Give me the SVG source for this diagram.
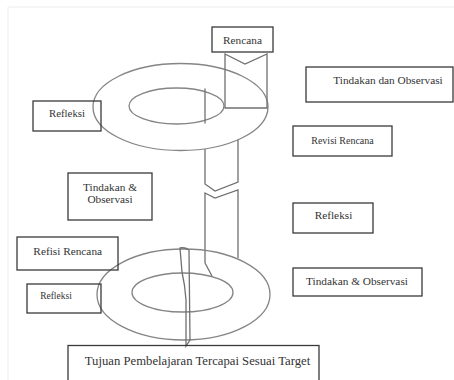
<svg xmlns="http://www.w3.org/2000/svg" width="454" height="380" viewBox="0 0 454 380">
<style>
.box{fill:none;stroke:#3a3a3a;stroke-width:1.3}
.ring{fill:none;stroke:#858585;stroke-width:1.3}
.ln{fill:none;stroke:#707070;stroke-width:1.3;stroke-linejoin:miter}
text{font-family:"Liberation Serif","Times New Roman",serif;fill:#333;text-anchor:middle;font-size:11.3px}
</style>
<rect x="0" y="0" width="454" height="380" fill="#fff"/>
<path d="M8,380 V7 H454" fill="none" stroke="#ececec" stroke-width="1"/>
<g id="connectors">
<ellipse class="ring" cx="180.5" cy="107" rx="87.5" ry="43.5"/>
<ellipse class="ring" cx="176.5" cy="106" rx="47.5" ry="18"/>
<line class="ln" x1="205" y1="88.5" x2="205" y2="123.5"/>
<polygon class="ln" points="225,54 245,64 267,54 267,108 225,108"/>
<polyline class="ln" points="205,149 205,184 215,191 238,182 238,140"/>
<polyline class="ln" points="205,263 205,193 215,198 238,190 238,258"/>
<polyline class="ln" points="205,263 212,276"/>
<ellipse class="ring" cx="183.5" cy="294.5" rx="86.5" ry="45.5"/>
<ellipse class="ring" cx="182.5" cy="292.5" rx="50.5" ry="19.5"/>
<path class="ln" d="M180,248 Q185,247 189,250 L190,340 L186,346 L186,300 Q185,285 182,272 Z"/>
</g>
<g id="rencana"><rect class="box" x="212" y="27" width="61" height="25"/><text x="242.5" y="43.5" font-size="11.2">Rencana</text></g>
<g id="tindakan-dan-observasi"><rect class="box" x="306" y="67" width="147" height="35"/><text x="388" y="84">Tindakan dan Observasi</text></g>
<g id="refleksi-1"><rect class="box" x="33" y="101" width="68" height="30"/><text x="67" y="117" style="font-size:10.8px">Refleksi</text></g>
<g id="revisi-rencana"><rect class="box" x="293" y="126" width="99" height="30"/><text x="342.5" y="144" style="font-size:10px">Revisi Rencana</text></g>
<g id="tindakan-observasi-1"><rect class="box" x="68" y="173" width="84" height="47"/><text x="110" y="190.5">Tindakan &amp;</text><text x="110" y="202.5">Observasi</text></g>
<g id="refleksi-2"><rect class="box" x="293" y="203" width="80" height="30"/><text x="333.5" y="219">Refleksi</text></g>
<g id="refisi-rencana"><rect class="box" x="17" y="237" width="101" height="33"/><text x="67.7" y="254.5">Refisi Rencana</text></g>
<g id="tindakan-observasi-2"><rect class="box" x="293" y="268" width="129" height="28"/><text x="357" y="284.5">Tindakan &amp; Observasi</text></g>
<g id="refleksi-3"><rect class="box" x="27" y="284" width="74" height="29"/><text x="56" y="299" style="font-size:9.5px">Refleksi</text></g>
<g id="tujuan"><rect class="box" x="68" y="345.5" width="251" height="40"/><text x="197.5" y="365" style="font-size:12.7px">Tujuan Pembelajaran Tercapai Sesuai Target</text></g>
</svg>
